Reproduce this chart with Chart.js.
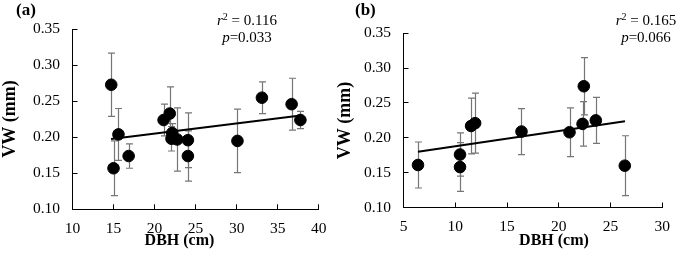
<!DOCTYPE html>
<html>
<head>
<meta charset="utf-8">
<script src="https://cdn.jsdelivr.net/npm/chart.js@4.4.1/dist/chart.umd.min.js"></script>
<style>
  html, body { margin: 0; padding: 0; background: #fff; }
  #wrap { position: relative; width: 685px; height: 257px; overflow: hidden; }
  #graficoA { position: absolute; left: 0; top: 0; }
  #graficoB { position: absolute; left: 330px; top: 0; }
</style>
</head>
<body>
<div id="wrap">
  <canvas id="graficoA" width="345" height="257"></canvas>
  <canvas id="graficoB" width="355" height="257"></canvas>
</div>
<script>
// panel (a)
const dbhA = [14.72, 15.0, 15.6, 16.84, 21.1, 21.85, 22.15, 22.06, 22.76, 24.06, 24.06, 30.1, 33.08, 36.7, 37.77];
const vwA  = [0.273, 0.157, 0.204, 0.174, 0.224, 0.233, 0.206, 0.198, 0.197, 0.196, 0.174, 0.195, 0.255, 0.246, 0.224];
const errA = [0.044, 0.038, 0.036, 0.017, 0.022, 0.037, 0.013, 0.017, 0.044, 0.038, 0.035, 0.044, 0.022, 0.036, 0.012];
const trendA = [[14.7, 0.1975], [37.8, 0.2302]];

// panel (b)
const dbhB = [6.4, 10.46, 10.46, 11.53, 11.92, 16.4, 21.04, 22.42, 22.3, 23.58, 26.38];
const vwB  = [0.161, 0.176, 0.158, 0.217, 0.221, 0.209, 0.208, 0.274, 0.220, 0.225, 0.160];
const errB = [0.033, 0.031, 0.035, 0.040, 0.043, 0.033, 0.035, 0.041, 0.032, 0.033, 0.043];
const trendB = [[6.4, 0.180], [26.4, 0.2237]];

const yTicks = [0.10, 0.15, 0.20, 0.25, 0.30, 0.35];
const ticksXA = [10, 15, 20, 25, 30, 35, 40];
const ticksXB = [5, 10, 15, 20, 25, 30];

const FONTE = '"Liberation Serif", "Times New Roman", serif';

// barras de erro, titulos e anotacoes
const extras = {
  id: 'extras',
  beforeDatasetsDraw(chart, args, opts) {
    const { ctx, scales: { x, y } } = chart;
    ctx.save();
    ctx.strokeStyle = '#767676';
    ctx.lineWidth = 1.2;
    opts.xs.forEach((xv, i) => {
      const px = Math.round(x.getPixelForValue(xv)) + 0.5;
      const top = y.getPixelForValue(opts.ys[i] + opts.err[i]);
      const bot = y.getPixelForValue(opts.ys[i] - opts.err[i]);
      ctx.beginPath();
      ctx.moveTo(px, top); ctx.lineTo(px, bot);
      ctx.moveTo(px - 3.5, top); ctx.lineTo(px + 3.5, top);
      ctx.moveTo(px - 3.5, bot); ctx.lineTo(px + 3.5, bot);
      ctx.stroke();
    });
    ctx.restore();
  },
  afterDraw(chart, args, opts) {
    const ctx = chart.ctx;
    ctx.save();
    ctx.fillStyle = '#000';
    ctx.textBaseline = 'middle';

    ctx.font = 'bold 17px ' + FONTE;
    ctx.textAlign = 'left';
    ctx.fillText(opts.letra, opts.letraX, 11);

    ctx.font = 'bold 16px ' + FONTE;
    ctx.textAlign = 'center';
    ctx.fillText('DBH (cm)', opts.tituloX, 241);
    ctx.save();
    ctx.font = 'bold 18px ' + FONTE;
    ctx.translate(opts.tituloYX, opts.tituloYY);
    ctx.rotate(-Math.PI / 2);
    ctx.fillText('VW (mm)', 0, 0);
    ctx.restore();

    // r2 e p
    const partes1 = [['italic 15px ', 'r', 0], ['10px ', '2', -4], ['15px ', ' = ' + opts.r2, 0]];
    const partes2 = [['italic 15px ', 'p', 0], ['15px ', '=' + opts.p, 0]];
    [[partes1, 21], [partes2, 38]].forEach(([partes, yy]) => {
      let larg = 0;
      partes.forEach(p => { ctx.font = p[0] + FONTE; larg += ctx.measureText(p[1]).width; });
      let xx = opts.anotX - larg / 2;
      ctx.textAlign = 'left';
      partes.forEach(p => {
        ctx.font = p[0] + FONTE;
        ctx.fillText(p[1], xx, yy + p[2]);
        xx += ctx.measureText(p[1]).width;
      });
    });
    ctx.restore();
  }
};

function criaGrafico(id, xs, ys, err, trend, xMin, xMax, ticksX, area, extrasOpts) {
  const ctx = document.getElementById(id).getContext('2d');
  return new Chart(ctx, {
    type: 'scatter',
    data: {
      datasets: [{
        data: xs.map((v, i) => ({ x: v, y: ys[i] })),
        backgroundColor: '#000',
        borderColor: '#000',
        pointRadius: 5.8,
        pointHoverRadius: 5.8
      }, {
        type: 'line',
        data: trend.map(p => ({ x: p[0], y: p[1] })),
        borderColor: '#000',
        borderWidth: 2,
        pointRadius: 0,
        fill: false
      }]
    },
    options: {
      responsive: false,
      animation: false,
      devicePixelRatio: 1,
      layout: {
        padding: { left: 0, right: area.right, top: area.top, bottom: 0 }
      },
      plugins: {
        legend: { display: false },
        tooltip: { enabled: false },
        extras: extrasOpts
      },
      scales: {
        x: {
          type: 'linear',
          min: xMin,
          max: xMax,
          afterFit(s) { s.height = area.xH; },
          afterBuildTicks(s) { s.ticks = ticksX.map(v => ({ value: v })); },
          border: { color: '#000', width: 1 },
          grid: { drawOnChartArea: false, drawTicks: true, tickLength: -5, color: '#000' },
          ticks: { color: '#000', padding: 15, font: { family: FONTE, size: 15.5 } }
        },
        y: {
          min: 0.1,
          max: 0.35,
          afterFit(s) { s.width = area.yW; },
          afterBuildTicks(s) { s.ticks = yTicks.map(v => ({ value: v })); },
          border: { color: '#000', width: 1 },
          grid: { drawOnChartArea: false, drawTicks: true, tickLength: -5, color: '#000' },
          ticks: {
            color: '#000', padding: 17.5,
            font: { family: FONTE, size: 15.5 },
            callback: v => Number(v).toFixed(2)
          }
        }
      }
    },
    plugins: [extras]
  });
}

criaGrafico('graficoA', dbhA, vwA, errA, trendA, 10, 40, ticksXA,
  { yW: 72.5, right: 26.3, top: 29.3, xH: 47.7 },
  { xs: dbhA, ys: vwA, err: errA, letra: '(a)', letraX: 16, tituloX: 179.5, tituloYX: 10, tituloYY: 119,
    r2: '0.116', p: '0.033', anotX: 247 });

criaGrafico('graficoB', dbhB, vwB, errB, trendB, 5, 30, ticksXB,
  { yW: 73.5, right: 7.7, top: 33.3, xH: 49.5 },
  { xs: dbhB, ys: vwB, err: errB, letra: '(b)', letraX: 25, tituloX: 224, tituloYX: 15, tituloYY: 120.5,
    r2: '0.165', p: '0.066', anotX: 316 });
</script>
</body>
</html>
